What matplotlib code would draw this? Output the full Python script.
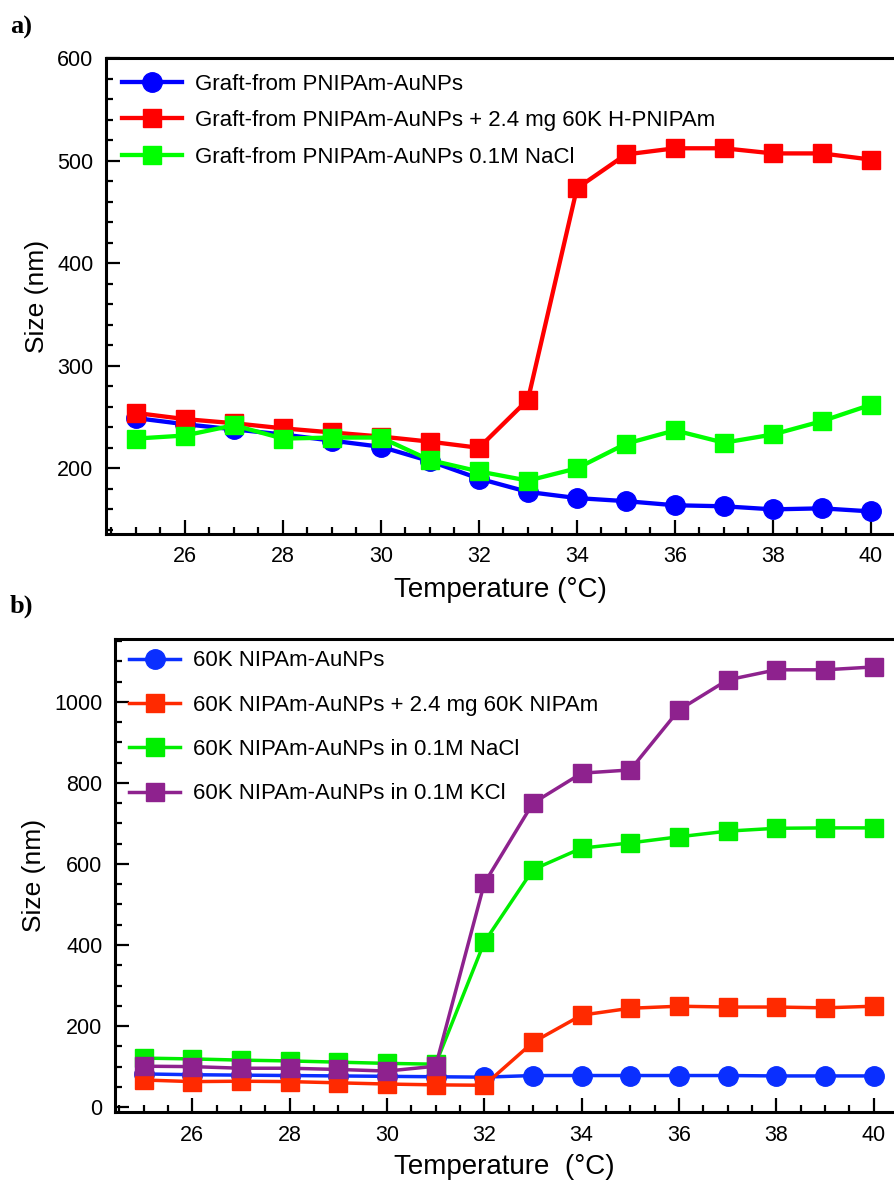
import matplotlib
matplotlib.use("Agg")
import matplotlib.pyplot as plt
from matplotlib.ticker import MultipleLocator

plt.rcParams['font.family'] = ['Liberation Sans', 'DejaVu Sans']

# ---- data, panel a ----
temp = [25, 26, 27, 28, 29, 30, 31, 32, 33, 34, 35, 36, 37, 38, 39, 40]
a_graft = [249, 243, 238, 233, 227, 221, 207, 190, 177, 171, 168, 164, 163, 160, 161, 158]
a_graft_hp = [254, 248, 244, 239, 235, 231, 226, 220, 267, 473, 506, 512, 512, 507, 507, 501]
a_graft_nacl = [229, 232, 242, 229, 230, 230, 208, 197, 188, 200, 224, 237, 225, 233, 246, 262]
a_labels = ['Graft-from PNIPAm-AuNPs',
            'Graft-from PNIPAm-AuNPs + 2.4 mg 60K H-PNIPAm',
            'Graft-from PNIPAm-AuNPs 0.1M NaCl']

# ---- data, panel b ----
b_np = [82, 80, 79, 78, 77, 76, 75, 74, 78, 78, 78, 78, 78, 77, 77, 77]
b_np_free = [67, 63, 64, 63, 60, 57, 55, 54, 160, 227, 244, 249, 247, 247, 245, 249]
b_nacl = [121, 119, 116, 114, 111, 108, 106, 407, 586, 639, 652, 667, 681, 688, 689, 689]
b_kcl = [101, 100, 96, 96, 93, 89, 101, 552, 750, 824, 832, 980, 1054, 1079, 1079, 1086]
b_labels = ['60K NIPAm-AuNPs',
            '60K NIPAm-AuNPs + 2.4 mg 60K NIPAm',
            '60K NIPAm-AuNPs in 0.1M NaCl',
            '60K NIPAm-AuNPs in 0.1M KCl']

fig = plt.figure(figsize=(8.94, 11.84), dpi=100)
ax1 = fig.add_axes([0.1186, 0.549, 0.8814, 0.402])
ax2 = fig.add_axes([0.1286, 0.0608, 0.8714, 0.3995])


def style_axes(ax):
    for side in ['left', 'top', 'bottom']:
        ax.spines[side].set_linewidth(2.2)
    ax.spines['right'].set_visible(False)
    ax.tick_params(which='both', direction='in', top=False, right=False,
                   width=1.6, labelsize=15.5, pad=9)
    ax.tick_params(which='major', length=10)
    ax.tick_params(which='minor', length=5)
    ax.xaxis.set_major_locator(MultipleLocator(2))
    ax.xaxis.set_minor_locator(MultipleLocator(0.5))


# panel a
ax1.plot(temp, a_graft, '-o', color='#0000ff', lw=3.1, ms=14, label=a_labels[0])
ax1.plot(temp, a_graft_hp, '-s', color='#ff0000', lw=3.1, ms=13, label=a_labels[1])
ax1.plot(temp, a_graft_nacl, '-s', color='#00ff00', lw=3.1, ms=13, label=a_labels[2])
ax1.set_xlim(24.39, 40.47)
ax1.set_ylim(136, 600)
style_axes(ax1)
ax1.yaxis.set_major_locator(MultipleLocator(100))
ax1.yaxis.set_minor_locator(MultipleLocator(20))
ax1.set_yticks([200, 300, 400, 500, 600])
ax1.set_xlabel('Temperature (°C)', fontsize=20, labelpad=7)
ax1.set_ylabel('Size (nm)', fontsize=19, labelpad=6)
ax1.legend(loc='upper left', frameon=False, fontsize=16, handlelength=2.7,
           labelspacing=0.7, borderaxespad=0.3, handletextpad=0.6,
           bbox_to_anchor=(0.0, 1.0))

# panel b
ax2.plot(temp, b_np, '-o', color='#0a2fff', lw=2.5, ms=14, label=b_labels[0])
ax2.plot(temp, b_np_free, '-s', color='#ff2a00', lw=2.5, ms=13, label=b_labels[1])
ax2.plot(temp, b_nacl, '-s', color='#00ee00', lw=2.5, ms=13, label=b_labels[2])
ax2.plot(temp, b_kcl, '-s', color='#8e228e', lw=2.5, ms=13, label=b_labels[3])
ax2.set_xlim(24.41, 40.42)
ax2.set_ylim(-12, 1155)
style_axes(ax2)
ax2.yaxis.set_major_locator(MultipleLocator(200))
ax2.yaxis.set_minor_locator(MultipleLocator(50))
ax2.set_xlabel('Temperature  (°C)', fontsize=20, labelpad=6)
ax2.set_ylabel('Size (nm)', fontsize=19, labelpad=6)
ax2.legend(loc='upper left', frameon=False, fontsize=16, handlelength=2.3,
           labelspacing=1.05, borderaxespad=0.3, handletextpad=0.6,
           bbox_to_anchor=(-0.002, 1.009))

fig.text(0.011, 0.977, 'a)', fontsize=19, fontweight='bold',
         family='Liberation Serif', va='center')
fig.text(0.011, 0.488, 'b)', fontsize=19, fontweight='bold',
         family='Liberation Serif', va='center')

fig.savefig('out.png', dpi=100)
